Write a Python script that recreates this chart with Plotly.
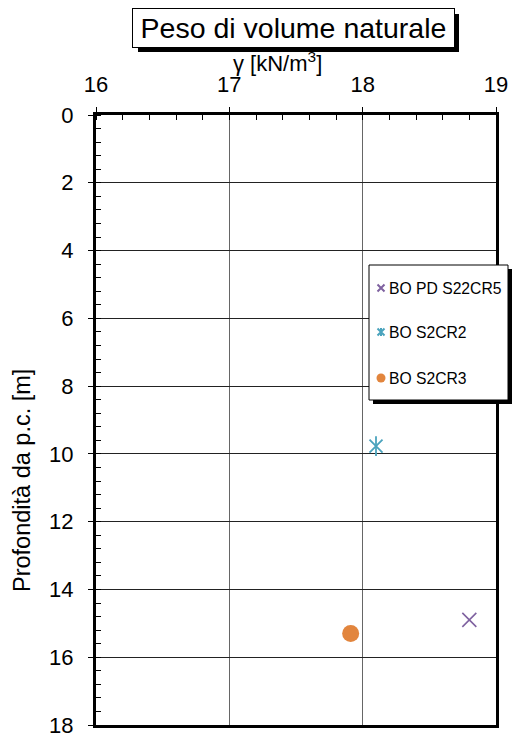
import plotly.graph_objects as go

series_names = ["BO PD S22CR5", "BO S2CR2", "BO S2CR3"]
gamma_vals = [[18.8], [18.1], [17.91]]
depth_vals = [[14.9], [9.77], [15.3]]
colors = ["#7F62A0", "#4AA3BD", "#E2853D"]

W, H = 512, 735
L, R, T, B = 96, 16, 115, 10
pw, ph = W - L - R, H - T - B

def px(xp):
    return (xp - L) / pw

def py(yp):
    return 1 - (yp - T) / ph

font = "Liberation Sans, Arial, sans-serif"

fig = go.Figure()
# BO PD S22CR5 : thin x
fig.add_trace(go.Scatter(x=gamma_vals[0], y=depth_vals[0], mode="markers", name=series_names[0],
                         showlegend=False, cliponaxis=False,
                         marker=dict(symbol="x-thin-open", size=14, color=colors[0],
                                     line=dict(color=colors[0], width=1.6))))
# BO S2CR2 : star (x + vertical)
for sym in ["x-thin-open", "line-ns-open"]:
    fig.add_trace(go.Scatter(x=gamma_vals[1], y=depth_vals[1], mode="markers", name=series_names[1],
                             showlegend=False, cliponaxis=False,
                             marker=dict(symbol=sym, size=14 if sym == "line-ns-open" else 13,
                                         color=colors[1], line=dict(color=colors[1], width=1.8))))
# BO S2CR3 : circle
fig.add_trace(go.Scatter(x=gamma_vals[2], y=depth_vals[2], mode="markers", name=series_names[2],
                         showlegend=False, cliponaxis=False,
                         marker=dict(symbol="circle", size=17, color=colors[2], line=dict(width=0))))

fig.update_layout(
    width=W, height=H,
    margin=dict(l=L, r=R, t=T, b=B),
    paper_bgcolor="white", plot_bgcolor="white",
    font=dict(family=font, color="black"),
    showlegend=False,
    xaxis=dict(range=[16, 19], side="top", dtick=1, tickfont=dict(size=22), automargin=False,
               ticklabeloverflow="allow", ticklabelstandoff=6,
               showgrid=True, gridcolor="#666", gridwidth=1,
               showline=True, linecolor="black", linewidth=3, mirror=True,
               ticks="outside", ticklen=5, tickcolor="black", zeroline=False,
               minor=dict(dtick=0.2, ticks="inside", ticklen=5, tickcolor="black", showgrid=False)),
    yaxis=dict(range=[18, 0], dtick=2, tickfont=dict(size=22), automargin=False,
               ticklabeloverflow="allow", ticklabelstandoff=10,
               showgrid=True, gridcolor="#222", gridwidth=1,
               showline=True, linecolor="black", linewidth=3, mirror=True,
               ticks="outside", ticklen=5, tickcolor="black", zeroline=False,
               minor=dict(dtick=0.4, ticks="inside", ticklen=5, tickcolor="black", showgrid=False)),
)

# Title with shadow
fig.add_shape(type="rect", xref="paper", yref="paper",
              x0=px(138), x1=px(459), y0=py(52), y1=py(14),
              fillcolor="black", line=dict(width=0), layer="above")
fig.add_annotation(text="Peso di volume naturale", xref="paper", yref="paper",
                   x=px(293.5), y=py(28), xanchor="center", yanchor="middle",
                   showarrow=False, font=dict(size=28.5, family=font),
                   bgcolor="white", bordercolor="black", borderwidth=1,
                   width=319, height=36)
# x axis title
fig.add_annotation(text="γ [kN/m<sup>3</sup>]", xref="paper", yref="paper",
                   x=px(277), y=py(62), xanchor="center", yanchor="middle",
                   showarrow=False, font=dict(size=22, family=font))
# y axis title
fig.add_annotation(text="Profondità da p.c. [m]", xref="paper", yref="paper",
                   x=px(22), y=py(481), xanchor="center", yanchor="middle", textangle=-90,
                   showarrow=False, font=dict(size=23.5, family=font))

# Legend (manual): shadow + box
fig.add_shape(type="rect", xref="paper", yref="paper",
              x0=px(373), x1=px(512), y0=py(404), y1=py(269),
              fillcolor="black", line=dict(width=0), layer="above")
fig.add_shape(type="rect", xref="paper", yref="paper",
              x0=px(369), x1=px(508), y0=py(400), y1=py(265),
              fillcolor="white", line=dict(color="black", width=1), layer="above")

leg_y = [288, 332, 378]
mx = px(381)
# purple x
fig.add_shape(type="path", xref="paper", yref="paper", xsizemode="pixel", ysizemode="pixel",
              xanchor=mx, yanchor=py(leg_y[0]),
              path="M-3.5,-3.5 L3.5,3.5 M-3.5,3.5 L3.5,-3.5",
              line=dict(color=colors[0], width=2), layer="above")
# teal star
fig.add_shape(type="path", xref="paper", yref="paper", xsizemode="pixel", ysizemode="pixel",
              xanchor=mx, yanchor=py(leg_y[1]),
              path="M-3.5,-3.5 L3.5,3.5 M-3.5,3.5 L3.5,-3.5 M0,-4 L0,4",
              line=dict(color=colors[1], width=2), layer="above")
# orange circle
fig.add_shape(type="circle", xref="paper", yref="paper", xsizemode="pixel", ysizemode="pixel",
              xanchor=mx, yanchor=py(leg_y[2]), x0=-4.5, x1=4.5, y0=-4.5, y1=4.5,
              fillcolor=colors[2], line=dict(width=0), layer="above")

for name, yy in zip(series_names, leg_y):
    fig.add_annotation(text=name, xref="paper", yref="paper",
                       x=px(387), y=py(yy), xanchor="left", yanchor="middle",
                       showarrow=False, font=dict(size=15.7, family=font))

fig.write_html("out.html")
